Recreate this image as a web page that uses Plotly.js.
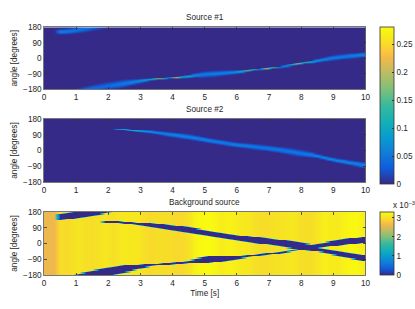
<!DOCTYPE html>
<html><head><meta charset="utf-8">
<script src="https://cdn.plot.ly/plotly-3.0.1.min.js"></script>
<style>html,body{margin:0;padding:0;background:#fff}#c{width:415px;height:309px}</style>
</head><body><div id="c"></div>
<script>
// Column times [s]
const times=[0.1,0.3,0.5,0.7,0.9,1.1,1.3,1.5,1.7,1.9,2.1,2.3,2.5,2.7,2.9,3.1,3.3,3.5,3.7,3.9,4.1,4.3,4.5,4.7,4.9,5.1,5.3,5.5,5.7,5.9,6.1,6.3,6.5,6.7,6.9,7.1,7.3,7.5,7.7,7.9,8.1,8.3,8.5,8.7,8.9,9.1,9.3,9.5,9.7,9.9];
// Source #1 ridge per column: centre angle, half width, peak
const s1Center=[null,null,154,156,160,167,175,183,190,197,203,208,214,220,226,232,236,241,243,245,-112,-109,-105,-99,-95,-92,-90,-87,-84,-81,-78,-73,-68,-64,-60,-56,-52,-46,-39,-32,-27,-21,-14,-7,0,5,9,13,16,20];
const s1Half=[null,null,17,18,19,21,22,23,24,24,24,24,22,19,14,10,6,4,3,3,3,5,8,13,18,19,18,16,15,12,8,4,3,3,3,3,3,3,3,3,4,7,9,12,15,17,17,17,16,15];
const s1Peak=[null,null,.06,.055,.05,.05,.05,.045,.04,.04,.045,.05,.055,.06,.07,.09,.13,.19,.24,.25,.25,.17,.11,.07,.055,.055,.06,.06,.065,.07,.12,.2,.25,.26,.27,.26,.27,.27,.26,.25,.2,.13,.09,.07,.06,.055,.055,.055,.06,.065];
// Source #2 ridge per column
const s2Center=[null,null,null,null,null,null,null,null,null,125,124,122,119,116,113,110,107,102,97,92,87,82,77,71,64,58,52,46,40,34,30,26,22,18,14,9,4,-2,-8,-14,-19,-24,-32,-41,-50,-58,-63,-70,-76,-83];
const s2Half=[null,null,null,null,null,null,null,null,null,1,1.5,2,3,4,6,8,10,11,13,15,16,16,16,16,16,16,16,16,16,16,16,16,17,18,18,19,19,20,21,21,20,17,12,11,12,13,14,15,16,18];
const s2Peak=[null,null,null,null,null,null,null,null,null,.2,.22,.2,.17,.14,.11,.08,.07,.065,.06,.06,.06,.06,.06,.06,.06,.06,.055,.055,.055,.055,.055,.055,.055,.05,.05,.05,.05,.05,.05,.05,.05,.055,.065,.07,.07,.065,.065,.06,.06,.06];
// Background level per column (x 10^-3)
const bgLevel=[2.62,2.62,2.96,2.93,3.0,3.03,2.98,2.96,3.0,3.06,2.98,3.03,3.08,3.08,3.08,2.98,2.93,2.96,2.96,2.95,2.93,2.92,3.0,3.2,3.27,3.3,3.24,3.12,3.18,3.16,3.09,3.08,3.0,2.96,2.95,2.98,3.01,3.03,3.08,3.0,2.96,2.96,3.03,3.17,3.12,3.1,3.18,3.24,3.26,3.16];
const angleTicks=[-180,-90,0,90,180];
const timeTicks=[0,1,2,3,4,5,6,7,8,9,10];
const titles=['Source #1','Source #2','Background source'];
const parula=[[0,'#352a87'],[.1,'#0f5cdd'],[.2,'#127dd8'],[.3,'#079ccf'],[.4,'#15b1b4'],[.5,'#38b99e'],[.6,'#7cbf7b'],[.7,'#b7bd64'],[.8,'#f1b94a'],[.85,'#fcc93a'],[.9,'#f6df26'],[1,'#f9fb0e']];

const angles=[];for(let a=-179.5;a<180;a+=1)angles.push(a);
const wrap=d=>((d+180)%360+360)%360-180;
function ridge(c,h,p){
  return angles.map(y=>times.map((_,i)=>{
    if(c[i]===null)return 0;
    const d=wrap(y-c[i]);
    if(Math.abs(d)>h[i])return 0;
    const s=h[i]/2;
    return p[i]*Math.exp(-d*d/(2*s*s));
  }));
}
function background(){
  return angles.map(y=>times.map((_,i)=>{
    for(const [c,h] of [[s1Center,s1Half],[s2Center,s2Half]]){
      if(c[i]!==null&&Math.abs(wrap(y-c[i]))<=Math.max(h[i],4.5))return 0;
    }
    return bgLevel[i];
  }));
}
const W=415,H=309,L=44,R=365.5;
const boxes=[[27.3,89.3],[119,182],[212,275]];
const font={family:'"Liberation Sans",Arial,sans-serif',size:8.2,color:'#262626'};
const layout={width:W,height:H,margin:{l:0,r:0,t:0,b:0},paper_bgcolor:'#fff',plot_bgcolor:'#fff',font:font,showlegend:false,
 coloraxis:{cmin:0,cmax:.28,colorscale:parula,colorbar:{x:379.5/W,xanchor:'left',y:1-27.3/H,yanchor:'top',lenmode:'fraction',len:156.7/H,thickness:13.5,thicknessmode:'pixels',xpad:0,ypad:0,outlinewidth:.8,outlinecolor:'#333',tickvals:[0,.05,.1,.15,.2,.25],ticktext:['0','0.05','0.1','0.15','0.2','0.25'],ticks:'inside',ticklen:2,tickcolor:'#333',tickfont:font}},
 coloraxis2:{cmin:0,cmax:3.3,colorscale:parula,colorbar:{x:379.5/W,xanchor:'left',y:1-212/H,yanchor:'top',lenmode:'fraction',len:63/H,thickness:13.5,thicknessmode:'pixels',xpad:0,ypad:0,outlinewidth:.8,outlinecolor:'#333',tickvals:[0,1,2,3],ticktext:['0','1','2','3'],ticks:'inside',ticklen:2,tickcolor:'#333',tickfont:font}},
 annotations:[]};
boxes.forEach((b,i)=>{
  const s=i?String(i+1):'';
  layout['xaxis'+s]={domain:[L/W,R/W],range:[0,10],tickvals:timeTicks,ticks:'inside',ticklen:2.5,tickwidth:.8,tickcolor:'#333',mirror:'ticks',showline:true,linecolor:'#555',linewidth:.8,showgrid:false,zeroline:false,anchor:'y'+s,tickfont:font};
  layout['yaxis'+s]={domain:[1-b[1]/H,1-b[0]/H],range:[-180,180],tickvals:angleTicks,ticks:'inside',ticklen:2.5,tickwidth:.8,tickcolor:'#333',mirror:'ticks',showline:true,linecolor:'#555',linewidth:.8,showgrid:false,zeroline:false,anchor:'x'+s,tickfont:font,title:{text:'angle [degrees]',font:font,standoff:4}};
  layout.annotations.push({xref:'paper',yref:'paper',x:(L+R)/2/W,y:1-(b[0]-3.5)/H,xanchor:'center',yanchor:'bottom',showarrow:false,text:titles[i],font:font});
});
layout.xaxis3.title={text:'Time [s]',font:font,standoff:3};
layout.annotations.push({xref:'paper',yref:'paper',x:391/W,y:1-205/H,xanchor:'left',yanchor:'middle',showarrow:false,text:'x 10<sup>\u22123</sup>',font:font});
const data=[
 {type:'heatmap',x:times,y:angles,z:ridge(s1Center,s1Half,s1Peak),coloraxis:'coloraxis',zsmooth:'best',xaxis:'x',yaxis:'y'},
 {type:'heatmap',x:times,y:angles,z:ridge(s2Center,s2Half,s2Peak),coloraxis:'coloraxis',zsmooth:'best',xaxis:'x2',yaxis:'y2'},
 {type:'heatmap',x:times,y:angles,z:background(),coloraxis:'coloraxis2',zsmooth:'best',xaxis:'x3',yaxis:'y3'}
];
Plotly.newPlot('c',data,layout,{displayModeBar:false,staticPlot:true});
</script></body></html>
